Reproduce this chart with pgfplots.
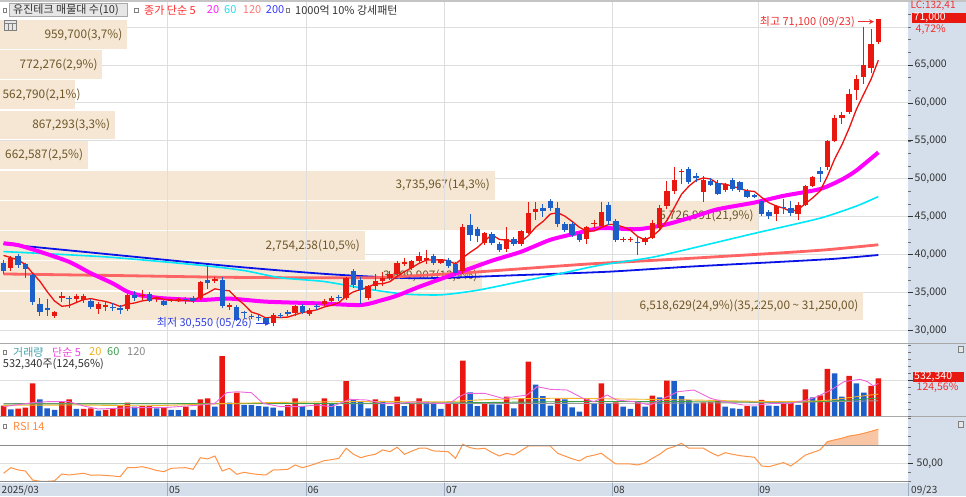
\documentclass[border=0pt]{standalone}
\usepackage{pgfplots}
\pgfplotsset{compat=1.18}
\usepackage{pgfplotstable}
\usepackage{fontspec}
\setmainfont{Noto Sans CJK KR}
\usetikzlibrary{arrows.meta}
\definecolor{cred}{HTML}{E8170F}
\definecolor{cblue}{HTML}{1C5FC8}
\definecolor{ma5}{HTML}{F01010}
\definecolor{ma20}{HTML}{FF00FF}
\definecolor{ma60}{HTML}{00E8F8}
\definecolor{ma120}{HTML}{FF6464}
\definecolor{ma200}{HTML}{0A14E6}
\definecolor{bandc}{HTML}{F5E7D4}
\definecolor{bandt}{HTML}{6E5628}
\definecolor{strip}{HTML}{D5DFEB}
\definecolor{gridc}{HTML}{DEDEDE}
\definecolor{topg}{HTML}{C4C4C4}
\definecolor{sepc}{HTML}{A8A8A8}
\definecolor{rsil}{HTML}{8C8C8C}
\definecolor{vma5}{HTML}{EE66DD}
\definecolor{vma20}{HTML}{F5B428}
\definecolor{vma60}{HTML}{3CA046}
\definecolor{vma120}{HTML}{9A9A9A}
\definecolor{rsic}{HTML}{FF9446}
\definecolor{rsif}{HTML}{F8C6A4}
\definecolor{txtd}{HTML}{333333}
\definecolor{tred}{HTML}{FF2A2A}
\definecolor{tmag}{HTML}{FF22FF}
\definecolor{tcya}{HTML}{22DDEE}
\definecolor{tsal}{HTML}{FF7777}
\definecolor{tblu}{HTML}{3838FF}
\definecolor{tteal}{HTML}{44A4AC}
\definecolor{tpink}{HTML}{EE44DD}
\definecolor{tyel}{HTML}{F0B020}
\definecolor{tgrn}{HTML}{3AA050}
\definecolor{tgry}{HTML}{8A8A8A}
\definecolor{torg}{HTML}{FF8A3A}
\definecolor{hic}{HTML}{F03030}
\definecolor{loc}{HTML}{3040E0}
\definecolor{boxg}{HTML}{E6E6E6}
\definecolor{boxb}{HTML}{A8A8A8}
\definecolor{stripl}{HTML}{9EACC0}
\newcommand\fT{\fontsize{11}{13}\selectfont}
\newcommand\fB{\fontsize{11.8}{14}\selectfont}
\newcommand\fA{\fontsize{10.5}{12}\selectfont}
\newcommand\fS{\fontsize{10}{12}\selectfont}

\pgfplotstableread{
i o h l c
1 38200 39800 37900 39500
7 31850 32600 31600 32500
8 34240 35100 33700 34600
10 34150 34800 33600 34500
11 34000 34800 33600 34600
13 32800 33800 32200 33540
14 33100 33800 32600 33400
17 32800 34800 32600 34700
19 34500 35400 34000 34700
21 34100 34300 33800 34300
23 33950 34200 33700 34050
24 33900 34300 33700 34100
27 34300 36500 34000 36400
29 36500 37000 36300 36800
31 33100 33600 32700 33400
37 30970 32300 30550 32100
40 32300 33400 31900 33180
42 32150 32900 31900 32750
44 33500 34100 33200 33950
45 33840 34500 33500 34280
47 34280 37100 34000 36930
50 34280 36000 34000 35830
51 35830 37400 35400 36580
52 36500 37700 35800 36930
53 36900 37800 36600 37400
54 37400 39100 37000 38900
55 38700 39600 38500 39000
56 38250 39300 38000 39140
57 39140 40400 38900 39800
58 39270 40600 38800 39580
60 38950 39400 38700 39270
63 37900 44000 37400 43600
66 41560 43000 41300 42890
69 40690 43600 40400 42010
71 41430 43300 41100 43110
72 42890 47000 42700 45540
73 45630 47000 44600 46070
80 42010 43800 41400 43640
81 44100 44600 43500 44210
82 43770 47000 43500 45630
85 41950 42300 41700 42050
86 41950 42300 41700 42050
88 41650 42300 41300 42230
89 42230 44500 42000 44210
90 43550 46500 43300 46200
91 46420 49700 46000 48410
92 48410 51500 48000 49870
93 50900 51300 49300 51050
96 48190 50300 47000 49870
99 48500 49500 48200 49300
106 45320 46600 44440 46420
109 45320 46900 44530 46560
110 46560 49200 46400 49070
111 49070 50400 48900 50170
113 51500 55100 51200 55030
114 55030 58340 54800 58040
115 58040 58780 57150 58440
116 58780 61880 58500 61220
117 61750 63640 60330 63110
118 63420 70040 62540 64970
119 64570 69730 64000 67800
120 68000 71100 67800 71000
}\upc

\pgfplotstableread{
i o h l c
0 38900 39300 37500 37800
2 39800 40100 38300 38600
3 38700 38900 36900 38100
4 37300 37400 33400 33700
5 33500 34300 31850 32500
6 33000 34200 31850 32650
9 34300 34500 33000 34200
12 33840 34100 32800 33100
15 33150 33600 32600 33050
16 33000 33300 32200 32700
18 34700 35200 33900 34300
20 34850 35100 33700 33840
22 33840 34100 33200 33300
25 34200 34400 33500 34100
26 34250 34500 33600 33840
28 36600 38500 35500 36300
30 36700 37000 32900 33200
32 33050 33300 31300 31420
33 32400 32600 31700 32300
34 31950 32200 31450 31850
35 31800 32000 31200 31700
36 31700 31800 30700 30970
38 32000 32300 31700 31950
39 32500 32700 31900 32150
41 33200 33500 32200 32500
43 33200 33500 32700 33100
46 34400 34700 33900 34300
48 37820 38050 35600 36050
49 36700 37000 33500 35400
59 39800 40100 38600 38900
61 39230 39500 38300 38480
62 38700 39000 37300 37590
64 43900 45300 41800 42580
65 43330 43700 41600 42450
67 42760 43000 41300 41560
68 41430 41700 40400 40550
70 42010 42300 41100 41350
74 46200 46700 45000 45760
75 47090 47300 45800 46200
76 46200 46900 43700 44080
77 44000 44300 43000 43250
78 44000 44300 42300 42580
79 42680 43000 41700 41880
83 46560 46900 43900 44430
84 44430 44700 41600 41880
87 41650 42300 40000 41500
94 51290 51500 49300 49520
95 50300 50700 49600 50170
97 49740 50100 49000 49210
98 49500 49800 47800 47970
100 49830 50100 48400 48640
101 49510 49700 48300 48500
102 48410 48700 47400 47620
103 47800 48000 47400 47600
104 47090 47300 45100 45320
105 45670 45900 44660 45100
107 46250 47300 45300 46150
108 46200 47100 45100 45450
112 50970 51500 49510 50620
}\dnc

\pgfplotstableread{
i v
0 146000
2 104000
3 118000
4 461000
8 202000
9 235000
11 101000
12 108000
14 85000
15 108000
16 141000
17 188000
19 141000
20 143000
22 122000
25 132000
27 235000
28 249000
30 847000
32 329000
39 155000
40 249000
43 179000
44 249000
47 494000
51 235000
54 273000
56 179000
57 249000
61 169000
62 171000
63 781000
66 169000
69 273000
71 249000
72 767000
76 249000
80 249000
82 461000
84 193000
87 207000
89 287000
91 499000
96 193000
97 195000
98 226000
102 141000
104 226000
107 179000
108 185000
110 377000
112 292000
113 664000
116 565000
119 424000
120 532340
}\vup

\pgfplotstableread{
i v
1 94000
5 235000
6 108000
7 85000
10 99000
13 75000
18 132000
21 108000
23 85000
24 83000
26 85000
29 132000
31 188000
33 155000
34 153000
35 141000
36 132000
37 118000
38 75000
41 141000
42 85000
45 179000
46 141000
48 235000
49 202000
50 108000
52 212000
53 141000
55 141000
58 202000
59 188000
60 99000
64 334000
65 141000
67 165000
68 160000
70 108000
73 442000
74 282000
75 146000
77 235000
78 122000
79 61000
81 179000
83 179000
85 132000
86 99000
88 132000
90 264000
92 494000
93 282000
94 226000
95 179000
99 132000
100 108000
101 99000
103 136000
105 146000
106 144000
109 158000
111 264000
114 602000
115 273000
117 461000
118 329000
}\vdn

\pgfplotsset{
  panel/.style={scale only axis, width=908pt, xmin=-0.4801, xmax=124.07, hide axis, clip=false, anchor=south west},
  wick/.style={draw=none, mark=none, forget plot, error bars/.cd, y dir=minus, y explicit, error mark=none, error bar style={line width=1pt, draw=#1}},
  body/.style={draw=none, mark=none, forget plot, error bars/.cd, y dir=minus, y explicit, error mark=none, error bar style={line width=5.4pt, draw=#1}},
}

\begin{document}
\begin{tikzpicture}[x=1pt,y=1pt]
\useasboundingbox (0,0) rectangle (966,496);
\fill[white] (0,0) rectangle (966,496);
\fill[topg] (0,494.3) rectangle (966,496);
\fill[strip] (908,0) rectangle (966,494.3);
\fill[strip] (0,0) rectangle (908,13);
% horizontal grid (price)
\foreach \Y in {165.5,203.4,241.4,279.3,317.25,355.2,393.1,431.06,469}
  \draw[gridc, line width=0.8pt] (0,\Y) -- (908,\Y);
\draw[gridc, line width=0.8pt] (0,115.4) -- (908,115.4);
\draw[gridc, line width=0.8pt] (0,32.7) -- (908,32.7);
% vertical grid
\foreach \X in {167.5,306,444.5,612.2,758}
  \draw[gridc, line width=0.8pt] (\X,13) -- (\X,494.3);

% ---------- volume profile bands ----------
\begin{axis}[panel, at={(0pt,155pt)}, height=335pt, ymin=28615, ymax=72768]
\addplot[fill=bandc, draw=none] coordinates {(-0.4801,67125) (16.95,67125) (16.95,70900) (-0.4801,70900)};
\addplot[fill=bandc, draw=none] coordinates {(-0.4801,63150) (13.54,63150) (13.54,66925) (-0.4801,66925)};
\addplot[fill=bandc, draw=none] coordinates {(-0.4801,59175) (9.74,59175) (9.74,62950) (-0.4801,62950)};
\addplot[fill=bandc, draw=none] coordinates {(-0.4801,55200) (15.27,55200) (15.27,58975) (-0.4801,58975)};
\addplot[fill=bandc, draw=none] coordinates {(-0.4801,51225) (11.55,51225) (11.55,55000) (-0.4801,55000)};
\addplot[fill=bandc, draw=none] coordinates {(-0.4801,47250) (67.37,47250) (67.37,51025) (-0.4801,51025)};
\addplot[fill=bandc, draw=none] coordinates {(-0.4801,43275) (103.53,43275) (103.53,47050) (-0.4801,47050)};
\addplot[fill=bandc, draw=none] coordinates {(-0.4801,39300) (49.53,39300) (49.53,43075) (-0.4801,43075)};
\addplot[fill=bandc, draw=none] coordinates {(-0.4801,35325) (65.64,35325) (65.64,39100) (-0.4801,39100)};
\addplot[fill=bandc, draw=none] coordinates {(-0.4801,31350) (117.9,31350) (117.9,35125) (-0.4801,35125)};
\end{axis}

% band labels
\begin{scope}[every node/.style={anchor=east, inner sep=0pt, text=bandt}]
\node at (122.5,461.5) {\fB 959,700(3,7\%)};
\node at (97.7,431.35) {\fB 772,276(2,9\%)};
\node[anchor=west] at (2.5,401.2) {\fB 562,790(2,1\%)};
\node at (110.3,371.0) {\fB 867,293(3,3\%)};
\node at (83.2,340.9) {\fB 662,587(2,5\%)};
\node at (490,310.7) {\fB 3,735,967(14,3\%)};
\node at (753.7,280.55) {\fB 5,726,991(21,9\%)};
\node at (360,250.4) {\fB 2,754,258(10,5\%)};
\node at (477.5,220.2) {\fB 3,699,907(13,9\%)};
\node at (858.5,190.1) {\fB 6,518,629(24,9\%)(35,225,00 \textasciitilde{} 31,250,00)};
\end{scope}
\foreach \X in {167.5,306,444.5,612.2,758}
  \draw[gridc, line width=0.8pt] (\X,155) -- (\X,490);

% table icon
\filldraw[fill=boxg, draw=gray] (4,465.5) rectangle (16.5,475.3);
\draw[gray] (4,472.3) -- (16.5,472.3) (8.2,465.5) -- (8.2,472.3) (12.3,465.5) -- (12.3,472.3);

% ---------- price: moving averages and candles ----------
\begin{axis}[panel, at={(0pt,155pt)}, height=335pt, ymin=28615, ymax=72768]
\addplot[ma200, line width=1.8pt, smooth, tension=0.4] coordinates {(0,41400)(16,39900)(32,38400)(45,37400)(57,36880)(71,37310)(83,37750)(94,38410)(107,39070)(114,39450)(120,39950)};
\addplot[ma120, line width=2.8pt, smooth, tension=0.4] coordinates {(0,37450)(15,37250)(32,37000)(50,36950)(57,37250)(64,37650)(80,38750)(94,39500)(107,40250)(113,40650)(120,41300)};
\addplot[ma60, line width=1.6pt, smooth, tension=0.4] coordinates {(0,40400)(14,39700)(27,38600)(33,37900)(38,36950)(44,36450)(50,35450)(55,34800)(60,34700)(65,35300)(70.8,36430)(75.4,37300)(81.8,38600)(89,39650)(96,41200)(103,42800)(112,44800)(117,46400)(120,47650)};
\addplot[ma20, line width=4pt, smooth, tension=0.4] coordinates {(0,41490)(2,41250)(5,40380)(9,39050)(12,37540)(15,36200)(17,35110)(19,34590)(22,34240)(27,34020)(31,34200)(36,33800)(43,33580)(49,33360)(52,34020)(54,34600)(57,35750)(60,36800)(63,37820)(67,39200)(71,40380)(75,41950)(79,42900)(82,43500)(87,43350)(91,44000)(95,45100)(98,45990)(103,46860)(107,47750)(112,48640)(115,49900)(117,51100)(120,53480)};
\addplot[ma5, line width=1.3pt] coordinates {(0,39900)(1,39600)(2,39300)(3,38700)(4,37540)(5,36480)(6,35110)(7,33890)(8,33190)(9,33290)(10,33690)(11,34080)(12,34200)(13,33990)(14,33830)(15,33540)(16,33160)(17,33480)(18,33630)(19,33890)(20,34050)(21,34370)(22,34090)(23,34040)(24,33920)(25,33970)(26,33880)(27,34500)(28,34950)(29,35490)(30,35310)(31,35220)(32,34220)(33,33420)(34,32430)(35,32130)(36,31650)(37,31780)(38,31710)(39,31770)(40,32070)(41,32380)(42,32510)(43,32740)(44,33100)(45,33320)(46,33680)(47,34510)(48,35100)(49,35390)(50,35700)(51,36160)(52,36160)(53,36430)(54,37130)(55,37760)(56,38270)(57,38850)(58,39280)(59,39280)(60,39340)(61,39210)(62,38760)(63,39570)(64,40300)(65,40940)(66,41820)(67,42620)(68,42010)(69,41890)(70,41670)(71,41720)(72,42510)(73,43620)(74,44370)(75,45340)(76,45530)(77,45070)(78,44370)(79,43600)(80,43090)(81,43110)(82,43590)(83,43960)(84,43960)(85,43640)(86,43210)(87,42380)(88,41940)(89,42410)(90,43240)(91,44510)(92,46180)(93,47950)(94,49010)(95,49800)(96,50100)(97,49960)(98,49350)(99,49300)(100,49000)(101,48720)(102,48410)(103,48330)(104,47540)(105,46830)(106,46410)(107,46120)(108,45690)(109,45940)(110,46730)(111,47480)(112,48370)(113,50290)(114,52590)(115,54460)(116,56670)(117,59170)(118,61160)(119,63110)(120,65620)};
% candles
\addplot[wick=cred] table[x=i, y=h, y error minus expr=\thisrow{h}-\thisrow{l}] {\upc};
\addplot[wick=cblue] table[x=i, y=h, y error minus expr=\thisrow{h}-\thisrow{l}] {\dnc};
\addplot[body=cred] table[x=i, y=c, y error minus expr={max(\thisrow{c}-\thisrow{o},150)}] {\upc};
\addplot[body=cblue] table[x=i, y=o, y error minus expr={max(\thisrow{o}-\thisrow{c},150)}] {\dnc};
\end{axis}

% ---------- volume ----------
\begin{axis}[panel, at={(0pt,80pt)}, height=72pt, ymin=0, ymax=1016640]
\addplot[ybar, bar width=5.5pt, bar shift=0pt, fill=cred, draw=none] table[x=i, y=v] {\vup};
\addplot[ybar, bar width=5.5pt, bar shift=0pt, fill=cblue, draw=none] table[x=i, y=v] {\vdn};
\addplot[vma120, line width=0.9pt, smooth] coordinates {(0,175000)(60,176000)(100,186000)(120,215000)};
\addplot[vma60, line width=0.9pt, smooth] coordinates {(0,170000)(30,175000)(60,185000)(80,205000)(100,200000)(110,200000)(116,225000)(120,255000)};
\addplot[vma20, line width=0.9pt, smooth] coordinates {(0,150000)(10,155000)(20,145000)(30,175000)(40,195000)(50,205000)(60,200000)(66,230000)(75,250000)(85,240000)(95,225000)(105,205000)(112,215000)(116,260000)(120,310000)};
\addplot[vma5, line width=0.9pt] coordinates {(0,132000)(4,188000)(6,202000)(9,202000)(11,141000)(13,99000)(18,118000)(22,118000)(27,155000)(29,179000)(30.6,329000)(32,343000)(34,329000)(35.6,179000)(38,132000)(40.6,132000)(43,155000)(45,132000)(47.5,235000)(49.8,226000)(52,179000)(54.3,179000)(56.6,202000)(59,179000)(61.2,179000)(62.5,273000)(63.5,320000)(66,320000)(68.5,249000)(71.8,296000)(73.2,414000)(75,377000)(77.3,367000)(79.5,249000)(81,202000)(82.8,296000)(84.1,226000)(86.5,202000)(88.7,155000)(90.1,226000)(92.5,343000)(94.7,367000)(97,249000)(98.8,202000)(101.5,155000)(103.4,155000)(105.6,179000)(107.9,179000)(110.2,226000)(111.6,273000)(113.5,367000)(115.3,485000)(117.5,518000)(118.5,485000)(119.3,424000)(120,461000)};
\end{axis}

% ---------- RSI ----------
\begin{axis}[panel, at={(0pt,14pt)}, height=65pt, ymin=29.2, ymax=101.4]
\addplot[fill=rsif, draw=none] coordinates {(112.57,70)(113,74)(114,76)(115,77.8)(116,80.3)(117,81.5)(118,83.3)(119,85.5)(120,87.8)(120,70)};
\addplot[rsic, line width=1pt] coordinates {(0,38.9)(1,45.1)(2,42.6)(3,41.4)(4,31.4)(5,30.0)(6,30.0)(7,30.5)(8,38.1)(9,37)(11,38.9)(12,36.7)(13,37)(14,36.5)(15,35.9)(16,35.1)(17,45.1)(18,45.1)(19,46.2)(20,44.4)(21,42)(22,40.7)(23,44.4)(24,44.8)(25,45.1)(26,43.3)(27,56.2)(28,54.8)(29,58.1)(30,41.4)(31,44.4)(32,37.8)(33,40)(34,38.5)(35,37.5)(36,37)(37,42.6)(38,42.8)(39,43.3)(40,48.1)(41,45.1)(42,47.4)(43,50)(44,52.9)(45,54)(46,55.5)(47,66.7)(48,60)(49,56.2)(50,58.5)(51,60)(52,64.8)(53,62.9)(54,67.8)(55,60)(56,63.5)(57,66.7)(58,66.7)(59,63.7)(60,63.3)(61,62.9)(62,55.5)(63,71.1)(64,67.3)(65,65.9)(66,66.7)(67,62)(68,58.1)(69,61.1)(70,59.2)(71,64)(72,69.2)(73,69.2)(74,69.2)(75,69.2)(76,61.1)(77,58)(78,55)(79,52.6)(80,57.3)(81,59)(82,61.1)(83,55)(84,49.2)(85,49.2)(86,49.2)(87,48.1)(88,50.5)(89,55.5)(90,60)(91,66)(92,68.5)(93,72.2)(94,66.7)(95,66.7)(96,66.7)(97,62)(98,58.1)(99,61.8)(100,60)(101,58.5)(102,57.5)(103,56.7)(104,47)(105,46.2)(106,48.5)(107,50.7)(108,47)(109,52.9)(110,59.2)(111,62)(112,64.8)(113,74)(114,76)(115,77.8)(116,80.3)(117,81.5)(118,83.3)(119,85.5)(120,87.8)};
\end{axis}

% RSI level lines & separators
\draw[rsil, line width=1.1pt] (0,50.73) -- (908,50.73);
\draw[rsil, line width=1.1pt] (0,14.7) -- (908,14.7);
\draw[sepc, line width=1.5pt] (0,152.5) -- (966,152.5);
\draw[sepc, line width=1.2pt] (0,79.3) -- (966,79.3);

% bottom strip separators and labels
\foreach \X in {167.5,306,444.5,612.2,758,908}
  \draw[stripl, line width=0.8pt] (\X,0) -- (\X,13);
\begin{scope}[every node/.style={anchor=west, inner sep=0pt, text=txtd}]
\node at (1.5,6) {\fS 2025/03};
\node at (168.8,6) {\fS 05};
\node at (307.3,6) {\fS 06};
\node at (445.8,6) {\fS 07};
\node at (613.3,6) {\fS 08};
\node at (759.2,6) {\fS 09};
\node at (911,6) {\fS 09/23};
\end{scope}

% right strip: price scale
\foreach \k in {0,...,25} \draw[txtd!70, line width=0.6pt] (908,{165.5+\k*12.6453}) -- ++(3,0);
\foreach \Y in {165.5,203.4,241.4,279.3,317.25,355.2,393.1,431.06} \draw[txtd, line width=0.7pt] (908,\Y) -- ++(5,0);
\begin{scope}[every node/.style={anchor=west, inner sep=0pt, text=txtd}]
\node at (914.5,431.06) {\fA 65,000};
\node at (914.5,393.1) {\fA 60,000};
\node at (914.5,355.2) {\fA 55,000};
\node at (914.5,317.25) {\fA 50,000};
\node at (914.5,279.3) {\fA 45,000};
\node at (914.5,241.4) {\fA 40,000};
\node at (914.5,203.4) {\fA 35,000};
\node at (914.5,165.5) {\fA 30,000};
\end{scope}
\node[anchor=west, inner sep=0pt, text=hic] at (910.5,490.3) {\fS LC:132,41};
\fill[cred] (912.3,473.3) rectangle (966,483.3);
\node[anchor=west, inner sep=0pt, text=white] at (913.5,478.3) {\fA 71,000};
\node[anchor=west, inner sep=0pt, text=hic] at (915.5,466.7) {\fA 4,72\%};

% right strip: volume
\foreach \k in {0,...,10} \draw[txtd!70, line width=0.6pt] (908,{80+\k*7.082}) -- ++(3,0);
\draw[txtd, line width=0.7pt] (908,115.4) -- ++(5,0);
\fill[cred] (912.7,114.3) rectangle (964,124.3);
\node[anchor=west, inner sep=0pt, text=white] at (914,119.3) {\fA 532,340};
\node[anchor=west, inner sep=0pt, text=hic] at (916.5,108.3) {\fA 124,56\%};
\filldraw[fill=boxg, draw=gray] (958,144) rectangle (963.5,149.5);
% right strip: RSI
\foreach \r in {30,40,...,100} \draw[txtd!70, line width=0.6pt] (908,{14+(\r-29.2)*0.9003}) -- ++(3,0);
\draw[txtd, line width=0.7pt] (908,32.7) -- ++(5,0);
\node[anchor=west, inner sep=0pt, text=txtd] at (916.5,32.7) {\fA 50,00};
\filldraw[fill=boxg, draw=gray] (958,69) rectangle (963.5,74.5);

% title rows
\filldraw[fill=white, draw=gray] (2.7,484) rectangle (6.3,488);
\filldraw[fill=boxg, draw=boxb] (9.3,480) rectangle (126.7,492.7);
\begin{scope}[every node/.style={anchor=west, inner sep=0pt}]
\node[text=txtd] at (13,486) {\fT 유진테크 매물대 수(10)};
\node[text=tred] at (144,486) {\fT 종가 단순 5};
\node[text=tmag] at (206.7,486) {\fT 20};
\node[text=tcya] at (224,486) {\fT 60};
\node[text=tsal] at (242.7,486) {\fT 120};
\node[text=tblu] at (265.7,486) {\fT 200};
\node[text=txtd] at (295,486) {\fT 1000억 10\% 강세패턴};
\node[text=tteal] at (13,144) {\fT 거래량};
\node[text=tpink] at (52,144) {\fT 단순 5};
\node[text=tyel] at (89,144) {\fT 20};
\node[text=tgrn] at (107,144) {\fT 60};
\node[text=tgry] at (127,144) {\fT 120};
\node[text=txtd] at (2.7,132) {\fT 532,340주(124,56\%)};
\node[text=torg] at (13,70) {\fT RSI 14};
\end{scope}
\filldraw[fill=white, draw=gray] (134.3,484) rectangle (137.7,488);
\filldraw[fill=white, draw=gray] (286,484) rectangle (289.5,488);
\filldraw[fill=white, draw=gray] (2.7,142) rectangle (6.3,146);
\filldraw[fill=white, draw=gray] (2.7,68) rectangle (6.3,72);

% annotations
\node[anchor=east, inner sep=0pt, text=hic] at (855,474.3) {\fT 최고 71,100 (09/23)};
\draw[hic, line width=0.8pt, -{Stealth[length=5pt,width=5pt]}] (858,474.3) -- (874,474.3);
\node[anchor=west, inner sep=0pt, text=loc] (lo) at (156.7,172.7) {\fT 최저 30,550 (05/26)};
\draw[loc, line width=0.8pt, -{Stealth[length=5pt,width=5pt]}] ([xshift=4pt]lo.east) -- ++(14,0);
\end{tikzpicture}
\end{document}
